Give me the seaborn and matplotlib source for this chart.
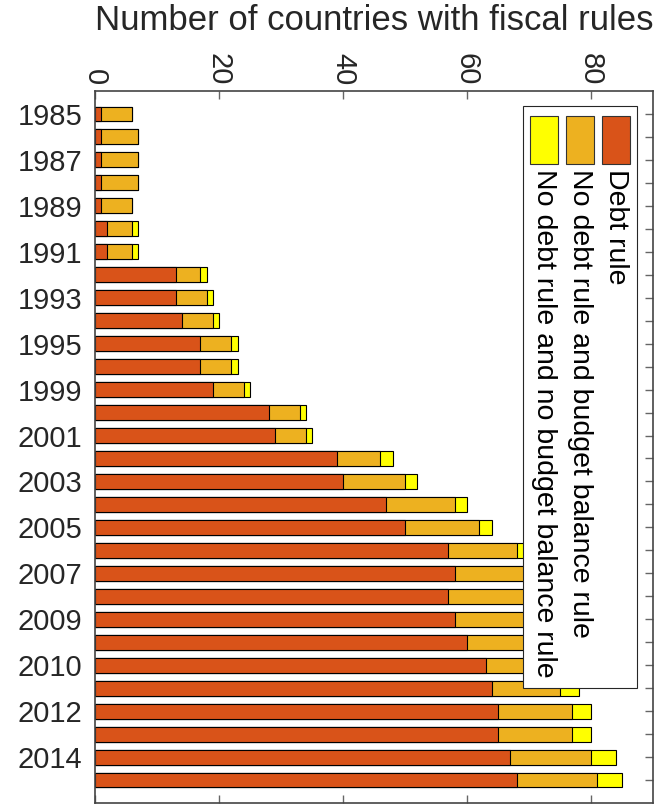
import numpy as np
import pandas as pd
import matplotlib
matplotlib.use("Agg")
import matplotlib.pyplot as plt
from matplotlib.patches import Rectangle
import seaborn as sns

# ---------------- data ----------------
ytick_labels = ["1985", "1987", "1989", "1991", "1993", "1995", "1999", "2001",
                "2003", "2005", "2007", "2009", "2010", "2012", "2014"]
debt_rule = [1, 1, 1, 1, 1, 2, 2, 13, 13, 14, 17, 17, 19, 28, 29,
             39, 40, 47, 50, 57, 58, 57, 58, 60, 63, 64, 65, 65, 67, 68]
budget_rule = [5, 6, 6, 6, 5, 4, 4, 4, 5, 5, 5, 5, 5, 5, 5,
               7, 10, 11, 12, 11, 12, 13, 13, 12, 11, 11, 12, 12, 13, 13]
no_rule = [0, 0, 0, 0, 0, 1, 1, 1, 1, 1, 1, 1, 1, 1, 1,
           2, 2, 2, 2, 2, 2, 2, 2, 2, 2, 3, 3, 3, 4, 4]
series_names = ["Debt rule",
                "No debt rule and budget balance rule",
                "No debt rule and no budget balance rule"]
xticks = [0, 20, 40, 60, 80]
title = "Number of countries with fiscal rules"

c_debt = "#D95319"
c_budget = "#EDB120"
c_none = "#FFFF00"

sns.set_theme(style="white")
plt.rcParams["font.family"] = ["Liberation Sans", "DejaVu Sans"]

n = len(debt_rule)
d = np.array(debt_rule)
b = np.array(budget_rule)
z = np.array(no_rule)
df = pd.DataFrame({"pos": np.arange(n), "c1": d, "c2": d + b, "c3": d + b + z})

W, H = 657, 805
fig = plt.figure(figsize=(W / 100, H / 100), dpi=100)
ax = fig.add_axes([95 / W, 2 / H, 558 / W, 712 / H])

for col, color in [("c3", c_none), ("c2", c_budget), ("c1", c_debt)]:
    sns.barplot(data=df, x=col, y="pos", orient="h", color=color, saturation=1,
                edgecolor="black", linewidth=0.8, width=0.65, errorbar=None, ax=ax)

ax.set_xlim(0, 90)
ax.set_ylim(n, -1)
ax.set_xlabel("")
ax.set_ylabel("")

ax.set_xticks(xticks)
ax.set_xticklabels([str(v) for v in xticks])
ax.xaxis.tick_top()
ax.tick_params(axis="x", top=True, bottom=True, labeltop=True, labelbottom=False,
               direction="in", length=6, width=1, color="#666666",
               labelrotation=-90, labelsize=21, pad=4, labelcolor="#262626")

ax.set_yticks(np.arange(n))
ylabs = []
k = 0
for i in range(n):
    if i % 2 == 0 and k < len(ytick_labels):
        ylabs.append(ytick_labels[k]); k += 1
    else:
        ylabs.append("")
ax.set_yticklabels(ylabs)
ax.tick_params(axis="y", left=True, right=True, direction="in", length=6, width=1,
               color="#666666", labelsize=21, pad=9, labelcolor="#262626")

for s in ax.spines.values():
    s.set_visible(True)
    s.set_color("#444444")
    s.set_linewidth(1.2)

fig.text(374 / W, 1 - 21 / H, title, ha="center", va="center",
         fontsize=25, color="#262626")

# ---------------- legend (rotated, MATLAB style) ----------------
def fx(px):
    return px / W

def fy(py):
    return 1 - py / H

box = Rectangle((fx(523), fy(688)), fx(637) - fx(523), fy(106) - fy(688),
                transform=fig.transFigure, facecolor="white", edgecolor="#262626",
                linewidth=0.8, zorder=10)
fig.patches.append(box)
entries = [(616, c_debt, series_names[0]),
           (580, c_budget, series_names[1]),
           (544, c_none, series_names[2])]
for cx, color, label in entries:
    p = Rectangle((fx(cx - 14), fy(164)), fx(28), fy(116) - fy(164),
                  transform=fig.transFigure, facecolor=color, edgecolor="#333333",
                  linewidth=0.8, zorder=11)
    fig.patches.append(p)
    fig.text(fx(cx), fy(169), label, rotation=-90, ha="center", va="top",
             fontsize=20.5, color="black", zorder=12)

fig.savefig("out.png", dpi=100)
